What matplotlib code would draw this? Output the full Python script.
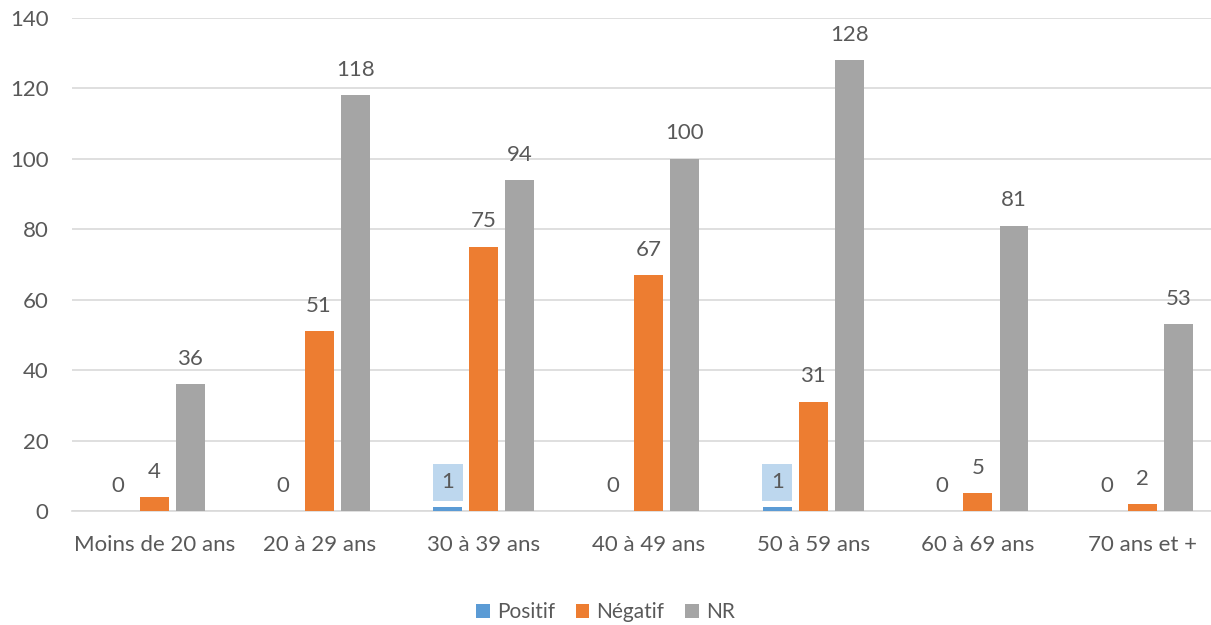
import numpy as np
import matplotlib.pyplot as plt
from matplotlib.patches import Patch

categories = ['Moins de 20 ans', '20 à 29 ans', '30 à 39 ans', '40 à 49 ans',
              '50 à 59 ans', '60 à 69 ans', '70 ans et +']
positif = [0, 0, 1, 0, 1, 0, 0]
negatif = [4, 51, 75, 67, 31, 5, 2]
nr = [36, 118, 94, 100, 128, 81, 53]

series_names = ['Positif', 'Négatif', 'NR']
colors = ['#5B9BD5', '#ED7D31', '#A5A5A5']
text_color = '#595959'

plt.rcParams['font.family'] = ['Lato', 'DejaVu Sans']

fig = plt.figure(figsize=(12.11, 6.25), dpi=100)
ax = fig.add_axes([72 / 1211, 114 / 625, (1211 - 72) / 1211, 493.3 / 625])

x = np.arange(len(categories))
width = 0.176
step = 0.219

for i, (vals, col) in enumerate(zip([positif, negatif, nr], colors)):
    pos = x + (i - 1) * step
    ax.bar(pos, vals, width, color=col, zorder=3)
    for px, v in zip(pos, vals):
        if i == 0 and v > 0:
            # highlighted label box, as in the original
            ax.annotate(str(v), (px, v), xytext=(0, 11), textcoords='offset points',
                        ha='center', va='bottom', fontsize=16, color=text_color,
                        bbox=dict(boxstyle='square,pad=0.38', facecolor='#BDD7EE',
                                  edgecolor='none'))
        else:
            ax.annotate(str(v), (px, v), xytext=(0, 11), textcoords='offset points',
                        ha='center', va='bottom', fontsize=16, color=text_color)

ax.set_xlim(-0.5, 6.5 - 14 / 164.7)
ax.set_ylim(0, 140)
ax.set_yticks(range(0, 141, 20))
ax.set_xticks(x)
ax.set_xticklabels(categories)
ax.tick_params(axis='both', length=0, labelsize=16, colors=text_color)
ax.tick_params(axis='x', pad=17)
ax.tick_params(axis='y', pad=17)
ax.grid(axis='y', color='#D9D9D9', linewidth=1.2, zorder=0)
for s in ['top', 'right', 'left']:
    ax.spines[s].set_visible(False)
ax.spines['bottom'].set_color('#D9D9D9')
ax.spines['bottom'].set_linewidth(1.2)

handles = [Patch(facecolor=c, edgecolor='none') for c in colors]
fig.legend(handles, series_names, loc='center', bbox_to_anchor=(0.5, 0.021),
           ncol=3, frameon=False, fontsize=15, labelcolor=text_color,
           handlelength=0.65, handleheight=0.65, handletextpad=0.35, columnspacing=1.0)

fig.savefig('out.png', dpi=100)
